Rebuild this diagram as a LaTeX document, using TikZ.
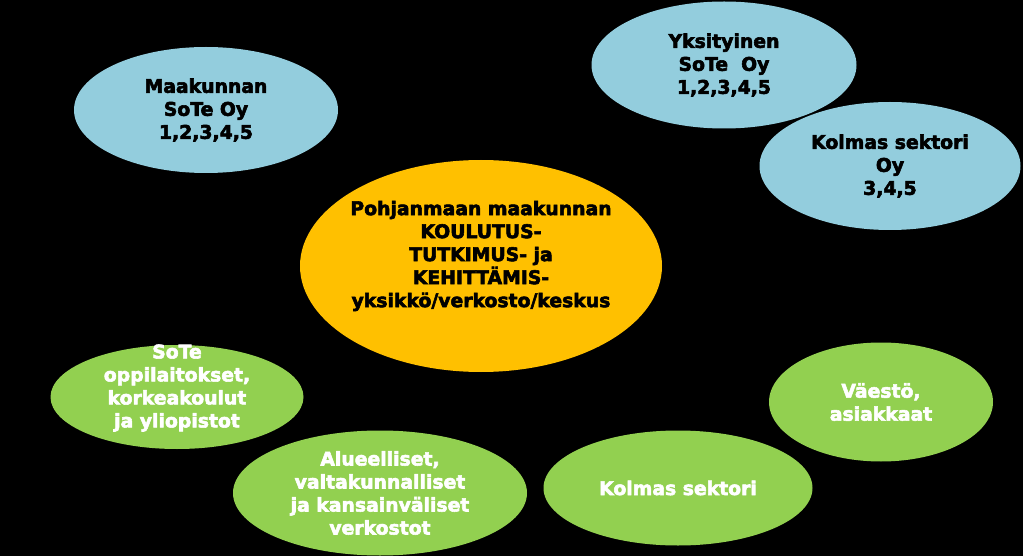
\documentclass[tikz,border=0pt]{standalone}
\usepackage{fontspec}
\setmainfont{DejaVu Sans}
\newfontfamily\heavy[FakeBold=3]{DejaVu Sans Bold}
\usetikzlibrary{shapes.geometric,calc}
\definecolor{skyblue}{HTML}{93CDDD}
\definecolor{amber}{HTML}{FFC000}
\definecolor{leafgreen}{HTML}{92D050}
\tikzset{
	blob/.style={ellipse,inner sep=0pt,draw=none},
	lbl/.style={align=center,font=\fontsize{18.8}{23}\heavy\selectfont,inner sep=0pt}
}
\begin{document}
\begin{tikzpicture}[x=1pt,y=-1pt]
		\fill[black] (0,0) rectangle (1023,556);
		\useasboundingbox (0,0) rectangle (1023,556);
		% blue ones
		\node (maak) at (206,110) [blob,fill=skyblue,minimum width=264pt,minimum height=126pt] {};
		\node (Tmaak) at (maak) [lbl] {Maakunnan\\SoTe Oy\\1,2,3,4,5};
		\node (yks) at (724,65) [blob,fill=skyblue,minimum width=265pt,minimum height=127pt] {};
		\node (Tyks) at (yks) [lbl] {Yksityinen\\SoTe\ \ Oy\\1,2,3,4,5};
		\node (kolmoy) at (890,166) [blob,fill=skyblue,minimum width=261pt,minimum height=128pt] {};
		\node (Tkolmoy) at (kolmoy) [lbl] {Kolmas sektori\\Oy\\3,4,5};
		% centre
		\node (keskus) at (481,266) [blob,fill=amber,minimum width=362pt,minimum height=212pt] {};
		\node (Tkeskus) at ($(keskus)+(0,-10)$) [lbl] {Pohjanmaan maakunnan\\KOULUTUS-\\TUTKIMUS- ja\\KEHITTÄMIS-\\yksikkö/verkosto/keskus};
		% green ones
		\node (oppi) at (177,397) [blob,fill=leafgreen,minimum width=253pt,minimum height=104pt] {};
		\node (Toppi) at ($(oppi)+(0,-9)$) [lbl,text=white] {SoTe\\oppilaitokset,\\korkeakoulut\\ja yliopistot};
		\node (verk) at (380,493) [blob,fill=leafgreen,minimum width=294pt,minimum height=125pt] {};
		\node (Tverk) at (verk) [lbl,text=white] {Alueelliset,\\valtakunnalliset\\ja kansainväliset\\verkostot};
		\node (kolm) at (678,488) [blob,fill=leafgreen,minimum width=269pt,minimum height=115pt] {};
		\node (Tkolm) at (kolm) [lbl,text=white] {Kolmas sektori};
		\node (vaesto) at (881,402) [blob,fill=leafgreen,minimum width=224pt,minimum height=119pt] {};
		\node (Tvaesto) at (vaesto) [lbl,text=white] {Väestö,\\asiakkaat};
	\end{tikzpicture}
\end{document}
